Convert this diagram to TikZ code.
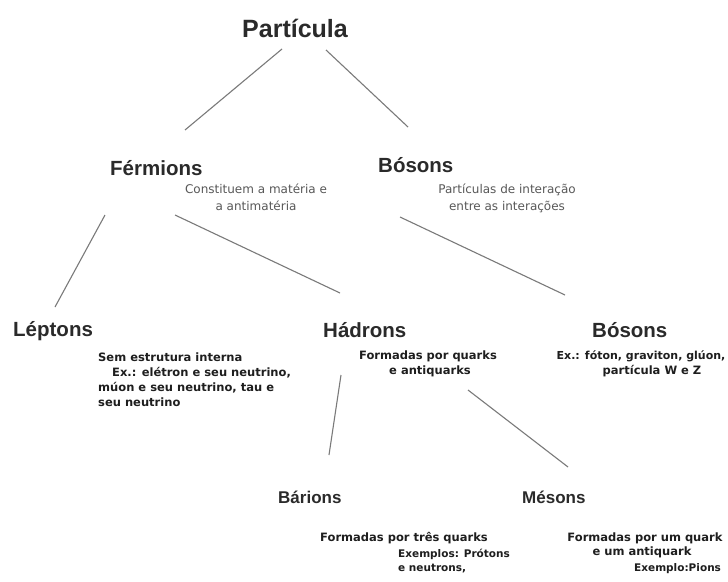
\documentclass[tikz,border=0pt]{standalone}
\usepackage{fontspec}
\setmainfont{Liberation Sans}
\newfontfamily\dvs{DejaVu Sans}
\definecolor{titlec}{HTML}{2A2A2A}
\definecolor{grayc}{HTML}{585858}
\definecolor{boldc}{HTML}{1E1E1E}
\definecolor{linec}{HTML}{7A7A7A}
\begin{document}
\begin{tikzpicture}[x=1pt,y=-1pt,
  bigtitle/.style={font=\fontsize{25}{30}\selectfont\bfseries, text=titlec, inner sep=0pt, anchor=base},
  title/.style={font=\fontsize{20.5}{24}\selectfont\bfseries, text=titlec, inner sep=0pt, anchor=base west},
  subtitle/.style={font=\fontsize{17}{20}\selectfont\bfseries, text=titlec, inner sep=0pt, anchor=base west},
  graytxt/.style={font=\dvs\fontsize{12}{14}\selectfont, text=grayc, inner sep=0pt, anchor=base},
  boldtxt/.style={font=\dvs\bfseries\fontsize{11.5}{14}\selectfont, text=boldc, inner sep=0pt, anchor=base},
  boldtxtl/.style={boldtxt, anchor=base west},
  smallbold/.style={font=\dvs\bfseries\fontsize{10.5}{13}\selectfont, text=boldc, inner sep=0pt, anchor=base west},
  link/.style={draw=linec, line width=1.1pt}]
\fill[white] (0,0) rectangle (728,581);
\useasboundingbox (0,0) rectangle (728,581);

% titles
\node[bigtitle] (part) at (295,37) {Partícula};
\node[title] (ferm) at (110,175) {Férmions};
\node[title] (bos) at (378,172) {Bósons};
\node[title] (lep) at (13,336) {Léptons};
\node[title] (had) at (323,337) {Hádrons};
\node[title] (bos2) at (592,337) {Bósons};
\node[subtitle] (bar) at (278,503) {Bárions};
\node[subtitle] (mes) at (522,503) {Mésons};

% gray descriptions
\node[graytxt] (ferma) at (256,193) {Constituem a matéria e};
\node[graytxt] (fermb) at (256,210) {a antimatéria};
\node[graytxt] (bosa) at (507,193) {Partículas de interação};
\node[graytxt] (bosb) at (507,210) {entre as interações};

% bold descriptions
\node[boldtxtl] (lepa) at (98,361) {Sem estrutura interna};
\node[boldtxtl] (lepb) at (112,376) {Ex.: elétron e seu neutrino,};
\node[boldtxtl] (lepc) at (98,391) {múon e seu neutrino, tau e};
\node[boldtxtl] (lepd) at (98,406) {seu neutrino};
\node[boldtxt] (hada) at (428,359) {Formadas por quarks};
\node[boldtxt] (hadb) at (430,374) {e antiquarks};
\node[boldtxt, font=\dvs\bfseries\fontsize{11}{14}\selectfont] (bos2a) at (641,359) {Ex.: fóton, graviton, glúon,};
\node[boldtxt] (bos2b) at (652,374) {partícula W e Z};
\node[boldtxt] (bara) at (404,541) {Formadas por três quarks};
\node[smallbold] (barb) at (398,557) {Exemplos: Prótons};
\node[smallbold] (barc) at (398,571) {e neutrons,};
\node[boldtxt] (mesa) at (645,541) {Formadas por um quark};
\node[boldtxt] (mesb) at (642,555) {e um antiquark};
\node[smallbold] (mesc) at (634,571) {Exemplo:Pions};

% connector end points
\coordinate (p1a) at (282,49);  \coordinate (p1b) at (185,130);
\coordinate (p2a) at (326,50);  \coordinate (p2b) at (408,127);
\coordinate (f1a) at (105,215); \coordinate (f1b) at (55,307);
\coordinate (f2a) at (175,215); \coordinate (f2b) at (340,293);
\coordinate (b1a) at (400,217); \coordinate (b1b) at (565,295);
\coordinate (h1a) at (341,375); \coordinate (h1b) at (329,455);
\coordinate (h2a) at (468,390); \coordinate (h2b) at (568,467);

\draw[link] (p1a) -- (p1b);
\draw[link] (p2a) -- (p2b);
\draw[link] (f1a) -- (f1b);
\draw[link] (f2a) -- (f2b);
\draw[link] (b1a) -- (b1b);
\draw[link] (h1a) -- (h1b);
\draw[link] (h2a) -- (h2b);
\end{tikzpicture}
\end{document}
